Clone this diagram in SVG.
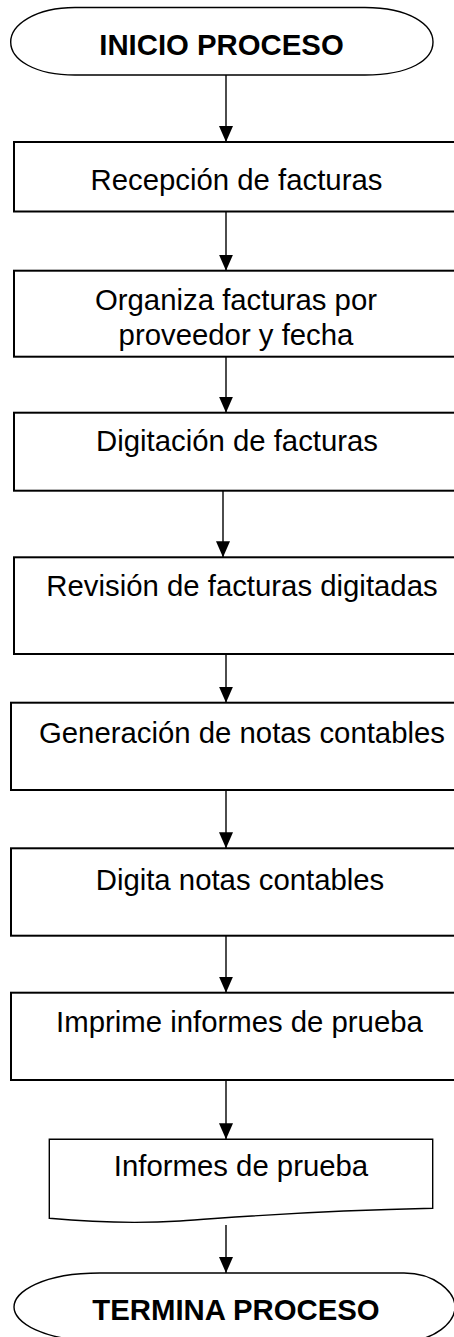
<svg xmlns="http://www.w3.org/2000/svg" width="454" height="1337" viewBox="0 0 454 1337">
<style>
.box{fill:#fff;stroke:#000;stroke-width:2}
.term{fill:#fff;stroke:#000;stroke-width:1.4}
.t{font-family:"Liberation Sans",Arial,sans-serif;font-size:29.33px;fill:#000;text-anchor:middle}
.b{font-weight:bold}
.c{stroke:#000;stroke-width:1.4;fill:none;marker-end:url(#ah)}
</style>
<defs>
<marker id="ah" viewBox="0 0 16 14" markerWidth="16" markerHeight="14" refX="16" refY="7" orient="auto" markerUnits="userSpaceOnUse">
<path d="M0,0 L16,7 L0,14 Z" fill="#000"/>
</marker>
</defs>
<g id="connectors">
<line class="c" x1="226" y1="75" x2="226" y2="142"/>
<line class="c" x1="226" y1="211.5" x2="226" y2="270.7"/>
<line class="c" x1="226" y1="356.7" x2="226" y2="412.7"/>
<line class="c" x1="223" y1="490.7" x2="223" y2="557.3"/>
<line class="c" x1="226" y1="654" x2="226" y2="702.7"/>
<line class="c" x1="226" y1="790" x2="226" y2="848.3"/>
<line class="c" x1="226" y1="935.7" x2="226" y2="992.7"/>
<line class="c" x1="226" y1="1080" x2="226" y2="1139.3"/>
<line class="c" x1="226" y1="1225" x2="226" y2="1273"/>
</g>
<g id="inicio">
<path class="term" d="M75,7.5 H365 C410,7.5 433,25 433,42 C433,60 410,75 365,75 H75 C35,75 10.7,60 10.7,42 C10.7,25 35,7.5 75,7.5 Z"/>
<text class="t b" x="221.5" y="55">INICIO PROCESO</text>
</g>
<g id="recepcion">
<rect class="box" x="14" y="142" width="446" height="69.5"/>
<text class="t" x="236.5" y="189.5">Recepción de facturas</text>
</g>
<g id="organiza">
<rect class="box" x="14" y="270.7" width="446" height="86"/>
<text class="t" x="236" y="310">Organiza facturas por</text>
<text class="t" x="236" y="345">proveedor y fecha</text>
</g>
<g id="digitacion">
<rect class="box" x="14" y="412.7" width="446" height="78"/>
<text class="t" x="237" y="451">Digitación de facturas</text>
</g>
<g id="revision">
<rect class="box" x="14" y="557.3" width="446" height="96.7"/>
<text class="t" x="242" y="596">Revisión de facturas digitadas</text>
</g>
<g id="generacion">
<rect class="box" x="11" y="702.7" width="449" height="87.3"/>
<text class="t" x="242" y="742.7">Generación de notas contables</text>
</g>
<g id="digita">
<rect class="box" x="11" y="848.3" width="449" height="87.4"/>
<text class="t" x="240" y="890">Digita notas contables</text>
</g>
<g id="imprime">
<rect class="box" x="11" y="992.7" width="449" height="87.3"/>
<text class="t" x="239.5" y="1031.7">Imprime informes de prueba</text>
</g>
<g id="informes">
<path class="term" d="M49.3,1139.3 H432.7 V1208.3 C300,1211 240,1217 180,1221 C130,1224 90,1222 49.3,1218.3 Z"/>
<text class="t" x="241" y="1176">Informes de prueba</text>
</g>
<g id="termina">
<path class="term" d="M100,1273 H404 C435,1273 455,1292 455,1307 C455,1322 435,1341 404,1341 H100 C42,1341 14,1322 14,1307 C14,1292 42,1273 100,1273 Z"/>
<text class="t b" x="236" y="1320">TERMINA PROCESO</text>
</g>
</svg>
